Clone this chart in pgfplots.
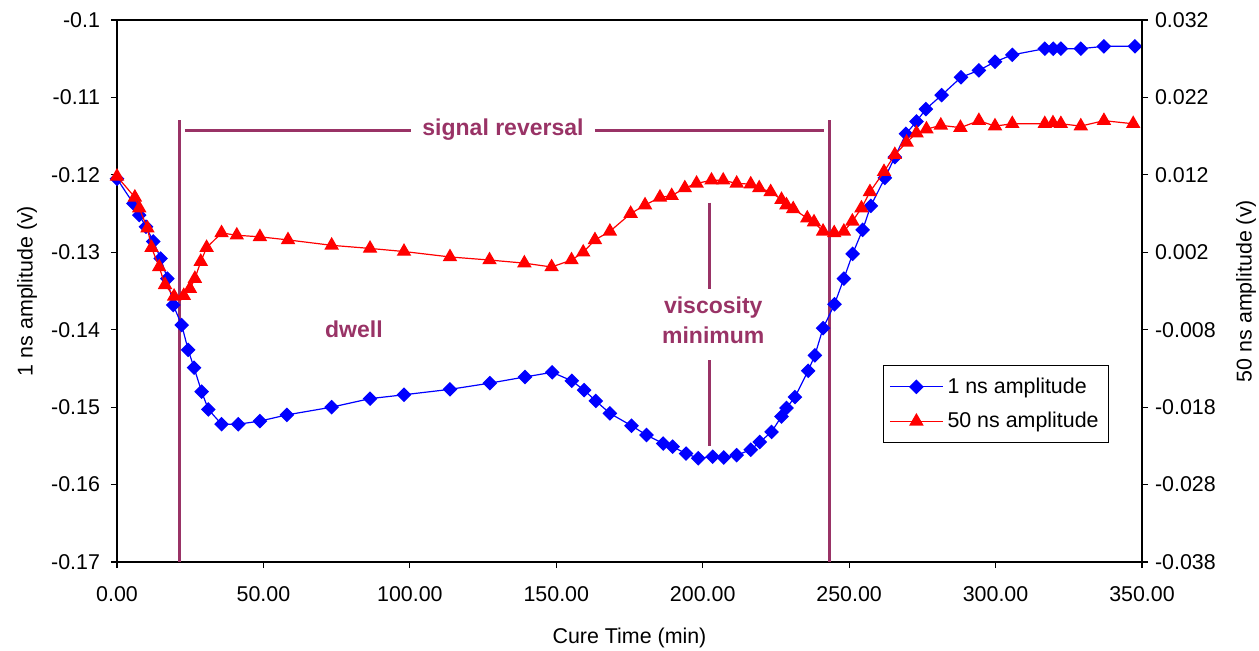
\documentclass[border=0pt]{standalone}
\usepackage{fontspec}
\setmainfont{Liberation Sans}
\usepackage{pgfplots}
\pgfplotsset{compat=1.18}
\definecolor{plum}{RGB}{153,51,102}
\newcommand{\tf}{\fontsize{10.7}{12.8}\selectfont}
\newcommand{\af}{\fontsize{11.5}{15}\selectfont\bfseries}
\pgfplotsset{
  bluestyle/.style={color=blue, line width=0.6pt, mark=square*, mark size=2.3pt, mark options={rotate=45, solid, fill=blue, draw=blue}},
  redstyle/.style={color=red, line width=0.6pt, mark=triangle*, mark size=3.6pt, mark options={solid, fill=red, draw=red}},
  common/.style={
    scale only axis, width=512.5pt, height=271pt, at={(0,0)}, anchor=south west,
    xmin=0, xmax=350, clip=false,
    scaled x ticks=false, scaled y ticks=false,
    tick align=outside, major tick length=3pt,
    axis line style={line width=0.6pt, black},
    every tick/.style={black, line width=0.6pt},
    tick label style={font=\tf},
    label style={font=\tf},
  },
}
\begin{document}
\begin{tikzpicture}
\useasboundingbox (-58.5pt,-44pt) rectangle (571pt,281pt);
\begin{axis}[common,
  ymin=-0.17, ymax=-0.1,
  xtick pos=left, ytick pos=left,
  xtick={0,50,100,150,200,250,300,350},
  xticklabels={0.00,50.00,100.00,150.00,200.00,250.00,300.00,350.00},
  ytick={-0.17,-0.16,-0.15,-0.14,-0.13,-0.12,-0.11,-0.1},
  yticklabels={-0.17,-0.16,-0.15,-0.14,-0.13,-0.12,-0.11,-0.1},
  xticklabel style={yshift=-5.5pt},
  yticklabel style={xshift=-2pt},
  xlabel={Cure Time (min)}, ylabel={1 ns amplitude (v)},
  xlabel style={at={([yshift=-37.75pt]axis description cs:0.5,0)}, anchor=center},
  ylabel style={at={([xshift=-45pt]axis description cs:0,0.5)}, anchor=center},
]
\draw[plum, line width=1.5pt] (axis cs:21.2,-0.11292) -- (axis cs:21.2,-0.17);
\draw[plum, line width=1.5pt] (axis cs:243.2,-0.11292) -- (axis cs:243.2,-0.17);
\draw[plum, line width=1.5pt] (axis cs:23.2,-0.11421) -- (axis cs:100.4,-0.11421);
\draw[plum, line width=1.5pt] (axis cs:163.2,-0.11421) -- (axis cs:241.4,-0.11421);
\node[plum, font=\af] at (axis cs:131.8,-0.11421) {signal reversal};
\node[plum, font=\af] at (axis cs:80.9,-0.1400) {dwell};
\node[plum, font=\af, align=center] at (axis cs:203.6,-0.13875) {viscosity\\minimum};
\draw[plum, line width=1.5pt] (axis cs:202.2,-0.12360) -- (axis cs:202.2,-0.13478);
\draw[plum, line width=1.5pt] (axis cs:202.2,-0.14391) -- (axis cs:202.2,-0.15502);
\addplot[bluestyle] coordinates {
(0,-0.1205) (5.6,-0.1237) (7.6,-0.1252) (9.9,-0.1267) (12.4,-0.1286) (14.9,-0.1308)
(17.2,-0.1334) (19.2,-0.1368) (22.1,-0.1394) (24.3,-0.1426) (26.3,-0.1449) (28.9,-0.1480)
(31.2,-0.1503) (35.7,-0.1522) (41.4,-0.1522) (48.8,-0.1518) (58.0,-0.1510) (73.3,-0.1500)
(86.4,-0.1489) (98.0,-0.1484) (113.7,-0.1477) (127.3,-0.1469) (139.3,-0.1461) (148.6,-0.1455)
(155.3,-0.1466) (159.5,-0.1478) (163.5,-0.1492) (168.3,-0.1508) (175.7,-0.1524) (180.8,-0.1536)
(186.5,-0.1547) (189.7,-0.1551) (194.3,-0.1560) (198.5,-0.1566) (203.4,-0.1564) (207.2,-0.1565)
(211.6,-0.1562) (216.4,-0.1555) (219.5,-0.1545) (223.5,-0.1532) (226.9,-0.1512) (228.6,-0.1501)
(231.5,-0.1487) (236.0,-0.1453) (238.3,-0.1433) (241.1,-0.1398) (245.0,-0.1367) (248.2,-0.1334)
(251.2,-0.1302) (254.6,-0.1271) (257.4,-0.1240) (262.2,-0.1204) (265.6,-0.1177) (269.4,-0.1147)
(273.0,-0.1131) (276.2,-0.1115) (281.6,-0.1097) (288.2,-0.1074) (294.3,-0.1065) (299.8,-0.1054)
(305.7,-0.1045) (316.8,-0.1037) (319.7,-0.1037) (322.3,-0.1037) (329.1,-0.1037) (337.0,-0.1034)
(347.6,-0.1034)
};
\end{axis}
\begin{axis}[common,
  ymin=-0.038, ymax=0.032,
  axis x line=none, axis y line*=right,
  ytick={-0.038,-0.028,-0.018,-0.008,0.002,0.012,0.022,0.032},
  yticklabels={-0.038,-0.028,-0.018,-0.008,0.002,0.012,0.022,0.032},
  ylabel={50 ns amplitude (v)},
  ylabel style={at={([xshift=52pt]axis description cs:1,0.5)}, anchor=center, rotate=0},
  legend style={at={(0.968,0.3635)}, anchor=north east, draw=black, line width=0.6pt,
    font=\tf, row sep=4pt, inner xsep=3pt, inner ysep=4pt},
  legend cell align=left,
  legend image code/.code={\draw[mark repeat=2,mark phase=2,#1] plot coordinates {(0pt,0pt)(13.25pt,0pt)(26.5pt,0pt)};},
]
\addlegendimage{bluestyle}
\addlegendentry{1 ns amplitude}
\addplot[redstyle] coordinates {
(0,0.0118) (6.1,0.0091) (7.6,0.0077) (10.4,0.0051) (11.8,0.0026) (14.4,0.0001) (16.4,-0.0022)
(19.5,-0.0037) (22.8,-0.0036) (24.9,-0.0027) (26.6,-0.0014) (28.6,0.0008) (30.6,0.0026)
(35.7,0.0045) (40.9,0.0042) (48.8,0.0040) (58.4,0.0036) (73.3,0.0029) (86.4,0.0025)
(98.0,0.0021) (113.7,0.0014) (127.2,0.0010) (139.1,0.0006) (148.4,0.0001) (155.2,0.0010)
(159.2,0.0020) (163.2,0.0036) (168.3,0.0047) (175.4,0.0070) (180.3,0.0081) (185.4,0.0091)
(189.4,0.0093) (193.9,0.0103) (197.9,0.0109) (203.0,0.0113) (207.0,0.0113) (211.6,0.0109)
(216.4,0.0108) (219.3,0.0103) (223.2,0.0098) (226.9,0.0088) (228.6,0.0081) (230.9,0.0076)
(235.7,0.0064) (238.0,0.0059) (241.1,0.0047) (244.9,0.0045) (248.2,0.0047) (251.1,0.0060)
(254.2,0.0077) (257.1,0.0098) (261.9,0.0124) (265.6,0.0146) (269.6,0.0162) (273.0,0.0174)
(276.4,0.0179) (281.3,0.0184) (288.0,0.0181) (294.3,0.0190) (299.8,0.0183) (305.7,0.0186)
(316.8,0.0186) (319.6,0.0187) (322.3,0.0186) (329.1,0.0183) (337.0,0.0190) (347.0,0.0186)
};
\addlegendentry{50 ns amplitude}
\end{axis}
\end{tikzpicture}
\end{document}
